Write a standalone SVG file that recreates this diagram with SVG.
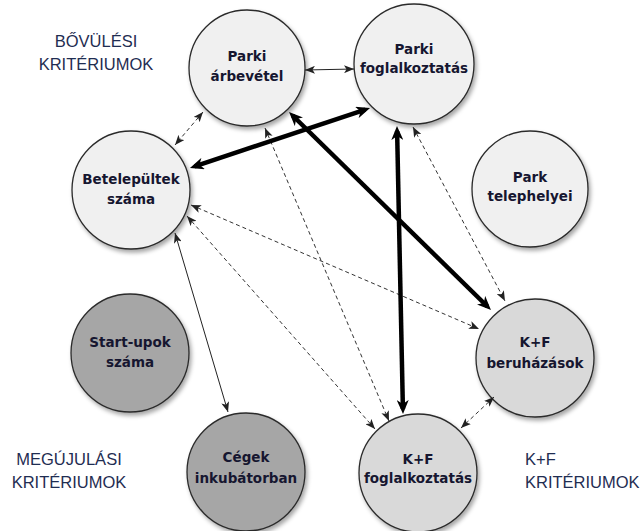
<svg xmlns="http://www.w3.org/2000/svg" width="644" height="531" viewBox="0 0 644 531">
  <defs>
    <style>
      .node circle { stroke: #2b2b2b; stroke-width: 1.3; filter: url(#shadow); }
      .light circle { fill: #f0f0f0; }
      .kf circle { fill: #d9d9d9; }
      .dark circle { fill: #a6a6a6; }
      .node text { font-family: "DejaVu Sans", sans-serif; font-weight: bold; font-size: 13.5px; fill: #161630; text-anchor: middle; }
      .group { font-family: "Liberation Sans", Arial, sans-serif; font-size: 16.5px; fill: #1f2d52; }
      .thin { stroke: #222; stroke-width: 1; fill: none; marker-start: url(#arrowThin); marker-end: url(#arrowThin); }
      .dash { stroke: #333; stroke-width: 1; fill: none; stroke-dasharray: 4 3; marker-start: url(#arrowThin); marker-end: url(#arrowThin); }
      .thick { stroke: #000; stroke-width: 4.5; fill: none; marker-start: url(#arrowThick); marker-end: url(#arrowThick); }
    </style>
    <filter id="shadow" x="-20%" y="-20%" width="150%" height="150%">
      <feDropShadow dx="2" dy="3" stdDeviation="2" flood-color="#000" flood-opacity="0.35"/>
    </filter>
    <marker id="arrowThin" markerUnits="userSpaceOnUse" markerWidth="10" markerHeight="8" refX="10" refY="4" orient="auto-start-reverse">
      <path d="M0,0 L10,4 L0,8 L2.5,4 z" fill="#222"/>
    </marker>
    <marker id="arrowThick" markerUnits="userSpaceOnUse" markerWidth="14" markerHeight="12" refX="9" refY="6" orient="auto-start-reverse">
      <path d="M0,0 L14,6 L0,12 L4,6 z" fill="#000"/>
    </marker>
  </defs>

  <rect width="644" height="531" fill="#ffffff"/>

  <!-- group headings -->
  <text class="group" x="96" y="47" text-anchor="middle">BŐVÜLÉSI</text>
  <text class="group" x="96" y="70" text-anchor="middle">KRITÉRIUMOK</text>
  <text class="group" x="69" y="465" text-anchor="middle">MEGÚJULÁSI</text>
  <text class="group" x="69" y="488" text-anchor="middle">KRITÉRIUMOK</text>
  <text class="group" x="525" y="465">K+F</text>
  <text class="group" x="525" y="488">KRITÉRIUMOK</text>

  <!-- nodes -->
  <g id="parki-arbevetel" class="node light">
    <circle cx="247" cy="68" r="58"/>
    <text x="247" y="61">Parki</text>
    <text x="247" y="81">árbevétel</text>
  </g>
  <g id="parki-foglalkoztatas" class="node light">
    <circle cx="414" cy="64" r="60"/>
    <text x="414" y="54">Parki</text>
    <text x="414" y="73">foglalkoztatás</text>
  </g>
  <g id="park-telephelyei" class="node light">
    <circle cx="530" cy="189" r="58"/>
    <text x="530" y="182">Park</text>
    <text x="530" y="201">telephelyei</text>
  </g>
  <g id="betelepultek-szama" class="node light">
    <circle cx="131" cy="190" r="59"/>
    <text x="131" y="184">Betelepültek</text>
    <text x="131" y="204">száma</text>
  </g>
  <g id="start-upok-szama" class="node dark">
    <circle cx="130" cy="353" r="59"/>
    <text x="130" y="347">Start-upok</text>
    <text x="130" y="367">száma</text>
  </g>
  <g id="cegek-inkubatorban" class="node dark">
    <circle cx="246" cy="472" r="59"/>
    <text x="246" y="462">Cégek</text>
    <text x="246" y="483">inkubátorban</text>
  </g>
  <g id="kf-beruhazasok" class="node kf">
    <circle cx="535" cy="358" r="59"/>
    <text x="535" y="347">K+F</text>
    <text x="535" y="368">beruházások</text>
  </g>
  <g id="kf-foglalkoztatas" class="node kf">
    <circle cx="418" cy="473" r="59"/>
    <text x="418" y="464">K+F</text>
    <text x="418" y="483">foglalkoztatás</text>
  </g>

  <!-- connectors -->
  <g id="connectors">
    <line class="thin" x1="305" y1="70" x2="354" y2="69"/>
    <line class="thin" x1="175" y1="233" x2="228" y2="412"/>

    <line class="dash" x1="203" y1="112" x2="175" y2="145"/>
    <line class="dash" x1="413" y1="127" x2="505" y2="301"/>
    <line class="dash" x1="265" y1="128" x2="389" y2="421"/>
    <line class="dash" x1="191" y1="205" x2="479" y2="329"/>
    <line class="dash" x1="187" y1="216" x2="375" y2="429"/>
    <line class="dash" x1="494" y1="397" x2="461" y2="428"/>

    <line class="thick" x1="194.7" y1="166.4" x2="365.3" y2="109.6"/>
    <line class="thick" x1="292.6" y1="115.5" x2="487.4" y2="306.5"/>
    <line class="thick" x1="397.1" y1="131" x2="402.9" y2="409"/>
  </g>
</svg>
